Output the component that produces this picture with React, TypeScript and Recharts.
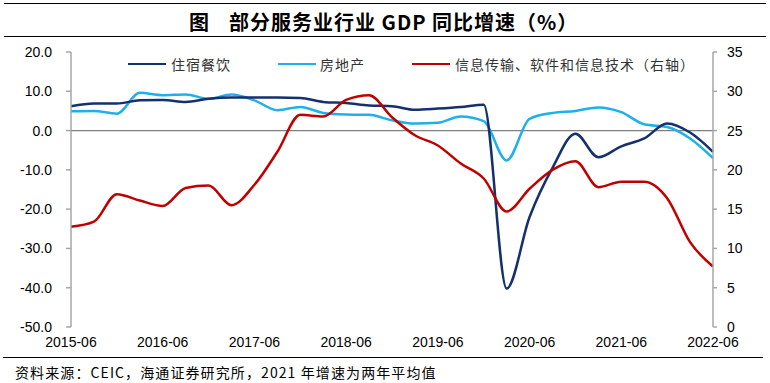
import React from "react";
import { LineChart, Line, XAxis, YAxis, ReferenceLine } from "recharts";

const categories = [
  "2015-06", "2015-09", "2015-12", "2016-03",
  "2016-06", "2016-09", "2016-12", "2017-03",
  "2017-06", "2017-09", "2017-12", "2018-03",
  "2018-06", "2018-09", "2018-12", "2019-03",
  "2019-06", "2019-09", "2019-12", "2020-03",
  "2020-06", "2020-09", "2020-12", "2021-03",
  "2021-06", "2021-09", "2021-12", "2022-03",
  "2022-06",
];

// 住宿餐饮 (left axis)
const hotelCatering = [
  6.2, 6.9, 6.9, 7.7, 7.8, 7.3, 8.1, 8.4, 8.4, 8.4, 8.3, 7.3, 7.0, 6.4, 6.2,
  5.3, 5.6, 6.0, 6.6, -40.2, -22.0, -9.5, -0.8, -6.8, -4.0, -2.0, 1.8, -0.5, -5.4,
];

// 房地产 (left axis)
const realEstate = [
  4.9, 5.0, 4.3, 9.6, 9.0, 9.2, 8.1, 9.2, 7.7, 5.2, 6.0, 4.5, 4.1, 4.0, 2.6,
  1.8, 2.0, 3.6, 2.4, -7.6, 3.0, 4.5, 5.0, 5.9, 4.7, 1.6, 0.9, -2.0, -7.0,
];

// 信息传输、软件和信息技术 (right axis)
const infoTech = [
  12.75, 13.4, 16.9, 16.1, 15.4, 17.7, 18.0, 15.5, 18.1, 22.3, 27.0, 26.8, 28.9,
  29.5, 26.7, 24.4, 23.1, 20.8, 18.9, 14.7, 17.6, 20.0, 21.1, 17.8, 18.5, 18.5,
  16.4, 10.8, 7.7,
];

const leftTicks = [20, 10, 0, -10, -20, -30, -40, -50];
const rightTicks = [0, 5, 10, 15, 20, 25, 30, 35];

const seriesNames = ["住宿餐饮", "房地产", "信息传输、软件和信息技术（右轴）"];
const seriesColors = ["#14316e", "#1fb0ec", "#c00000"];

const data = categories.map((c, i) => ({
  date: c,
  hotel: hotelCatering[i],
  realEstate: realEstate[i],
  infoTech: infoTech[i],
}));

const cjk = '"Noto Sans CJK SC", "Noto Sans", sans-serif';
const latin = '"Liberation Sans", Arial, sans-serif';

const legendPos = [
  { lineX: 128, textX: 171 },
  { lineX: 278, textX: 320 },
  { lineX: 412, textX: 455 },
];

const titleStyle: React.CSSProperties = {
  position: "absolute",
  top: 10,
  fontFamily: cjk,
  fontWeight: 700,
  fontSize: 20,
  lineHeight: "24px",
  color: "#000",
  whiteSpace: "pre",
};

export default function App() {
  return (
    <div
      style={{
        position: "absolute",
        left: 0,
        top: 0,
        width: 770,
        height: 383,
        background: "#fff",
        overflow: "hidden",
      }}
    >
      {/* title lines */}
      <div style={{ position: "absolute", left: 4, top: 3, width: 762, height: 0, borderTop: "1.5px solid #000" }} />
      <div style={{ position: "absolute", left: 4, top: 36, width: 762, height: 0, borderTop: "1.5px solid #000" }} />
      <div style={{ ...titleStyle, left: 189 }}>{"图"}</div>
      <div style={{ ...titleStyle, left: 229, letterSpacing: 1 }}>{"部分服务业行业 GDP 同比增速（%）"}</div>

      <div style={{ position: "absolute", left: 0, top: 0 }}>
        <LineChart
          width={770}
          height={383}
          data={data}
          margin={{ top: 52, right: 7, bottom: 26, left: 11 }}
        >
          <XAxis
            dataKey="date"
            interval={3}
            axisLine={false}
            tickLine={false}
            tickSize={6}
            tickMargin={4}
            height={30}
            tick={{ fill: "#000", fontSize: 14, fontFamily: latin }}
          />
          <YAxis
            yAxisId="left"
            orientation="left"
            domain={[-50, 20]}
            ticks={leftTicks}
            interval={0}
            tickFormatter={(v: number) => v.toFixed(1)}
            width={60}
            axisLine={{ stroke: "#a6a6a6", strokeWidth: 1.5 }}
            tickLine={{ stroke: "#a6a6a6", strokeWidth: 1.5 }}
            tickSize={5}
            tickMargin={14}
            tick={{ fill: "#000", fontSize: 14, fontFamily: latin }}
          />
          <YAxis
            yAxisId="right"
            orientation="right"
            domain={[0, 35]}
            ticks={rightTicks}
            interval={0}
            width={50}
            axisLine={{ stroke: "#a6a6a6", strokeWidth: 1.5 }}
            tickLine={{ stroke: "#a6a6a6", strokeWidth: 1.5 }}
            tickSize={4}
            tickMargin={10}
            tick={{ fill: "#000", fontSize: 14, fontFamily: latin }}
          />
          <ReferenceLine yAxisId="left" y={0} stroke="#7f7f7f" strokeWidth={1.2} />
          <Line
            yAxisId="left"
            type="monotone"
            dataKey="realEstate"
            stroke={seriesColors[1]}
            strokeWidth={2.5}
            dot={false}
            isAnimationActive={false}
          />
          <Line
            yAxisId="left"
            type="monotone"
            dataKey="hotel"
            stroke={seriesColors[0]}
            strokeWidth={2.5}
            dot={false}
            isAnimationActive={false}
          />
          <Line
            yAxisId="right"
            type="monotone"
            dataKey="infoTech"
            stroke={seriesColors[2]}
            strokeWidth={2.5}
            dot={false}
            isAnimationActive={false}
          />
        </LineChart>
      </div>

      {/* legend */}
      {seriesNames.map((name, i) => (
        <React.Fragment key={name}>
          <div
            style={{
              position: "absolute",
              left: legendPos[i].lineX,
              top: 63,
              width: 38,
              height: 0,
              borderTop: `2.5px solid ${seriesColors[i]}`,
            }}
          />
          <div
            style={{
              position: "absolute",
              left: legendPos[i].textX,
              top: 55,
              fontFamily: cjk,
              fontSize: 14,
              letterSpacing: 1,
              lineHeight: "18px",
              color: "#333",
              whiteSpace: "pre",
            }}
          >
            {name}
          </div>
        </React.Fragment>
      ))}

      {/* footer */}
      <div style={{ position: "absolute", left: 3, top: 357, width: 760, height: 0, borderTop: "1.5px solid #000" }} />
      <div
        style={{
          position: "absolute",
          left: 15,
          top: 362,
          fontFamily: cjk,
          fontSize: 14,
          letterSpacing: 1.1,
          lineHeight: "20px",
          color: "#000",
          whiteSpace: "pre",
        }}
      >
        {"资料来源：CEIC，海通证券研究所，2021 年增速为两年平均值"}
      </div>
    </div>
  );
}
